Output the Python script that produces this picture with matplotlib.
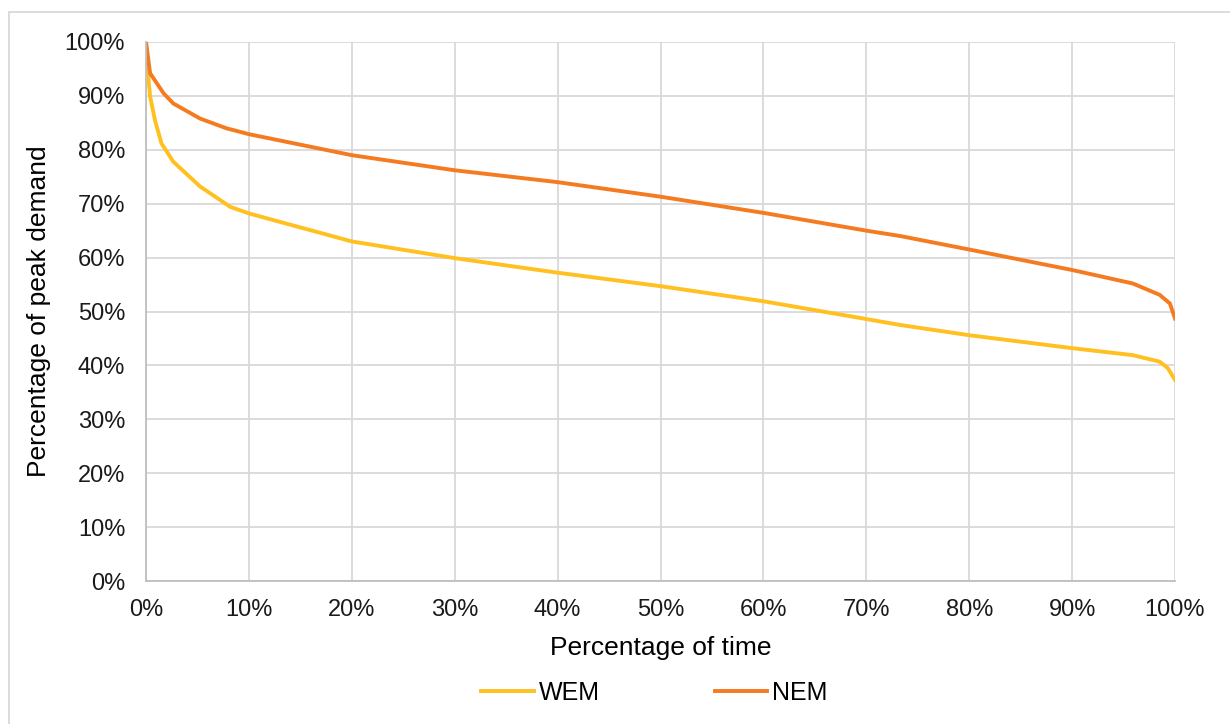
import numpy as np
import matplotlib.pyplot as plt
from matplotlib.patches import Rectangle
from matplotlib.ticker import PercentFormatter, MultipleLocator

plt.rcParams['font.family'] = ['Liberation Sans', 'DejaVu Sans']

# load duration curves (percent of time, percent of peak)
wem_time = [0, 0.15, 0.4, 0.87, 1.5, 2.65, 5.25, 8.2, 10, 14.8, 20, 30, 40,
            50, 60, 70, 73.3, 80, 90, 95.9, 98.5, 99.3, 100]
wem_load = [100, 95.0, 89.9, 85.5, 81.2, 77.8, 73.2, 69.4, 68.2, 65.7, 63.0,
            59.9, 57.2, 54.7, 51.9, 48.6, 47.5, 45.6, 43.2, 41.9, 40.7, 39.5, 37.3]

nem_time = [0, 0.4, 1.7, 2.65, 5.25, 7.8, 10, 20, 30, 40, 50, 60, 70, 73.3,
            80, 90, 95.9, 98.5, 99.5, 100]
nem_load = [100, 94.2, 90.5, 88.6, 85.8, 84.0, 82.9, 79.0, 76.2, 74.0, 71.3,
            68.3, 65.0, 64.0, 61.5, 57.7, 55.2, 53.1, 51.5, 48.7]

fig = plt.figure(figsize=(12.3, 7.24), dpi=100)
ax = fig.add_axes([146/1230, 1 - 581/724, (1175 - 146)/1230, (581 - 42)/724])

ax.plot(wem_time, wem_load, color='#FFC020', lw=2.8, label='WEM',
        solid_joinstyle='round')
ax.plot(nem_time, nem_load, color='#F47B20', lw=2.8, label='NEM',
        solid_joinstyle='round')

ax.set_xlim(0, 100)
ax.set_ylim(0, 100)
ax.xaxis.set_major_locator(MultipleLocator(10))
ax.yaxis.set_major_locator(MultipleLocator(10))
ax.xaxis.set_major_formatter(PercentFormatter(decimals=0))
ax.yaxis.set_major_formatter(PercentFormatter(decimals=0))
ax.grid(True, color='#D9D9D9', lw=1.3)
ax.set_axisbelow(True)
ax.tick_params(length=0, labelsize=17, colors='#1a1a1a')
ax.tick_params(axis='y', pad=15)
ax.tick_params(axis='x', pad=13)
for s in ['top', 'right']:
    ax.spines[s].set_visible(False)
for s in ['left', 'bottom']:
    ax.spines[s].set_color('#BFBFBF')
    ax.spines[s].set_linewidth(1.3)

ax.set_xlabel('Percentage of time', fontsize=19, labelpad=11)
ax.set_ylabel('Percentage of peak demand', fontsize=19, labelpad=10)

fig.legend(loc='center', bbox_to_anchor=(0.532, 1 - 693/724), ncol=2,
           frameon=False, fontsize=18, handlelength=2.1, handletextpad=0.2,
           columnspacing=4.6)

fig.patches.append(Rectangle((9/1230, -0.1), 1.2, 1 - 12/724 + 0.1,
                             transform=fig.transFigure, fill=False,
                             edgecolor='#D9D9D9', lw=1.3))

fig.savefig('out.png', dpi=100)
